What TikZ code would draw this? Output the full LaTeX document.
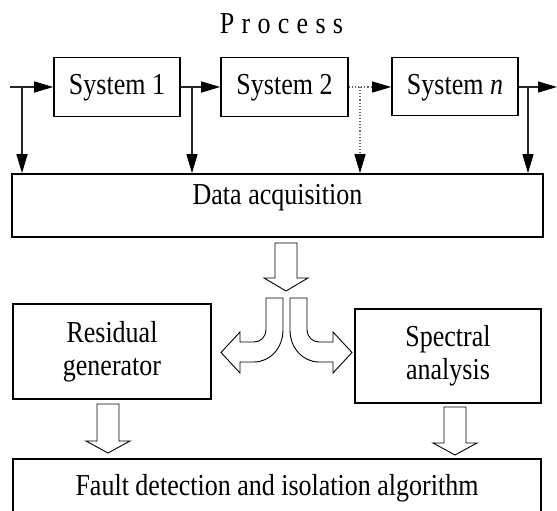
\documentclass[tikz,border=0pt]{standalone}
\usepackage{fontspec}
\usepackage{graphicx}
\setmainfont{Liberation Serif}
\usetikzlibrary{arrows.meta}
\newcommand\bodysize{\fontsize{26}{33}\selectfont}
\newcommand\tall[1]{\scalebox{1}[1.17]{#1}}
\begin{document}
\begin{tikzpicture}[x=1pt,y=-1pt,
  box/.style={draw, line width=1.6pt, inner sep=0pt, font=\bodysize, align=center},
  onebox/.style={box, text height=20pt, text depth=5pt},
  conn/.style={line width=1.3pt, draw=black!85, -{Triangle[length=19pt,width=11pt,black]}},
  dotconn/.style={line width=1.1pt, draw=black!60, dotted, -{Triangle[length=19pt,width=11pt,black]}},
  blockarrow/.style={draw, line width=0.9pt, fill=white, line join=miter}
]
\useasboundingbox (0,0) rectangle (557,511);

% title
\node[font=\bodysize, anchor=base, inner sep=0pt] (title) at (281.5,34)
  {\tall{P\kern7.3pt r\kern7.3pt o\kern7.3pt c\kern7.3pt e\kern7.3pt s\kern7.3pt s}};

% systems
\node[onebox, minimum width=126pt, minimum height=59pt] (s1) at (117,87) {\tall{System 1}};
\node[onebox, minimum width=127pt, minimum height=59pt] (s2) at (284.5,87) {\tall{System 2}};
\node[onebox, minimum width=126pt, minimum height=58pt] (sn) at (455,86.5) {\tall{System \textit{n}}};

% data acquisition
\node[box, text height=18pt, text depth=21pt, minimum width=531pt, minimum height=63pt] (da) at (277.5,205.5) {\tall{Data acquisition}};

% residual / spectral
\node[box, minimum width=198pt, minimum height=95pt] (rg) at (112,351.5) {\tall{Residual}\\\tall{generator}};
\node[box, minimum width=186pt, minimum height=94pt] (sa) at (448,356) {\tall{Spectral}\\\tall{analysis}};

% fault detection
\node[box, text height=20pt, text depth=8pt, minimum width=528pt, minimum height=61pt] (fd) at (277,489.5) {\tall{Fault detection and isolation algorithm}};

% signal line connectors
\coordinate (in) at (10,87);
\coordinate (b0) at (22,87);
\coordinate (b1) at (192,87);
\coordinate (b2) at (360,87);
\coordinate (b3) at (528,87);
\coordinate (out) at (557,87);

\draw[conn] (in) -- (s1.west |- in);
\draw[conn] (s1.east |- b1) -- (s2.west |- b1);
\draw[dotconn] (s2.east |- b2) -- (sn.west |- b2);
\draw[conn] (sn.east |- b3) -- (out);

\draw[conn] (b0) -- (b0 |- da.north);
\draw[conn] (b1) -- (b1 |- da.north);
\draw[dotconn] (b2) -- (b2 |- da.north);
\draw[conn] (b3) -- (b3 |- da.north);

% block arrow down from data acquisition
\draw[blockarrow] (275,243) -- (297,243) -- (297,278) -- (308,278) -- (286,291) -- (264,278) -- (275,278) -- cycle;

% curved block arrow to the left
\draw[blockarrow] (266,298) -- (283,298) -- (283,330)
  .. controls (283,348) and (270,362) .. (254,362)
  -- (240,362) -- (240,373) -- (221,352.5) -- (240,332) -- (240,342) -- (254,342)
  .. controls (260.6,342) and (266,336.6) .. (266,330) -- cycle;

% curved block arrow to the right
\draw[blockarrow] (307,298) -- (290,298) -- (290,330)
  .. controls (290,348) and (303,362) .. (319,362)
  -- (333,362) -- (333,373) -- (352,352.5) -- (333,332) -- (333,342) -- (319,342)
  .. controls (312.4,342) and (307,336.6) .. (307,330) -- cycle;

% block arrows to fault detection
\draw[blockarrow] (97,404) -- (119,404) -- (119,441) -- (130,441) -- (108,453) -- (86,441) -- (97,441) -- cycle;
\draw[blockarrow] (444,407) -- (466,407) -- (466,443) -- (477,443) -- (455,455) -- (433,443) -- (444,443) -- cycle;
\end{tikzpicture}
\end{document}
